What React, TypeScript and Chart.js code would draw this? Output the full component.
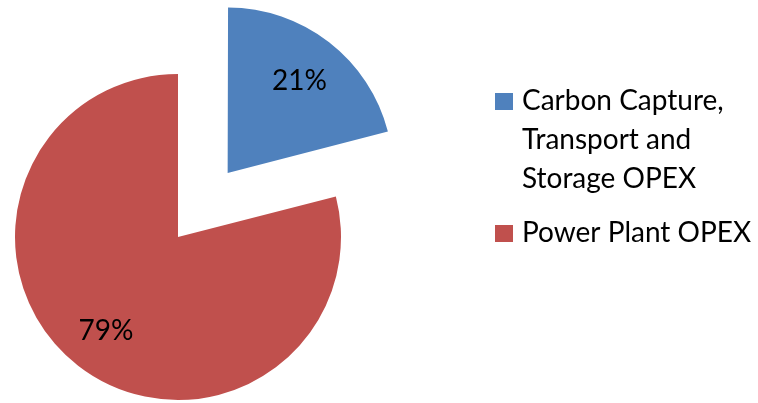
import React, { useEffect, useRef } from "react";
import { Chart, registerables } from "chart.js";

Chart.register(...registerables);

const categories = ["Carbon Capture, Transport and Storage OPEX", "Power Plant OPEX"];
const legendLines = [["Carbon Capture,", "Transport and", "Storage OPEX"], ["Power Plant OPEX"]];
const shares = [21, 79];
const percentLabels = ["21%", "79%"];
const colors = ["#4F81BD", "#C0504D"];
const explode = [81, 0];

const FONT = "Lato, 'Open Sans', sans-serif";

export default function App() {
  const ref = useRef<HTMLCanvasElement>(null);

  useEffect(() => {
    if (!ref.current) return;

    const labelPlugin = {
      id: "pctLabels",
      afterDatasetsDraw(chart: any) {
        const ctx = chart.ctx;
        const meta = chart.getDatasetMeta(0);
        ctx.save();
        ctx.font = `28px ${FONT}`;
        ctx.fillStyle = "#000";
        ctx.textAlign = "center";
        ctx.textBaseline = "alphabetic";
        meta.data.forEach((arc: any, i: number) => {
          const mid = (arc.startAngle + arc.endAngle) / 2;
          const d = explode[i] + arc.outerRadius * 0.72;
          ctx.fillText(percentLabels[i], arc.x + Math.cos(mid) * d, arc.y + Math.sin(mid) * d + 10);
        });
        ctx.restore();
      },
    };

    const legendPlugin = {
      id: "sideLegend",
      afterDraw(chart: any) {
        const ctx = chart.ctx;
        ctx.save();
        ctx.font = `28px ${FONT}`;
        ctx.textAlign = "left";
        ctx.textBaseline = "alphabetic";
        const lineH = 39;
        let base = 110;
        legendLines.forEach((lines, i) => {
          ctx.fillStyle = colors[i];
          ctx.fillRect(495, base - 17, 18, 17);
          ctx.fillStyle = "#000";
          lines.forEach((ln, j) => ctx.fillText(ln, 522, base + j * lineH));
          base += lines.length * lineH + 15;
        });
        ctx.restore();
      },
    };

    const chart = new Chart(ref.current, {
      type: "pie",
      data: {
        labels: categories,
        datasets: [
          {
            data: shares,
            backgroundColor: colors,
            borderWidth: 0,
            offset: explode.map((e) => e * 4),
            hoverOffset: 0,
            clip: false,
            radius: 163,
          } as any,
        ],
      },
      options: {
        responsive: false,
        animation: false,
        devicePixelRatio: 1,
        layout: { padding: { left: 0, top: 71, right: 402, bottom: 0 } },
        plugins: {
          legend: { display: false },
          tooltip: { enabled: false },
        },
      } as any,
      plugins: [labelPlugin, legendPlugin],
    });

    return () => chart.destroy();
  }, []);

  return (
    <div style={{ position: "fixed", left: 0, top: 0, width: 758, height: 403, background: "#fff" }}>
      <canvas ref={ref} width={758} height={403} style={{ width: 758, height: 403, display: "block" }} />
    </div>
  );
}
